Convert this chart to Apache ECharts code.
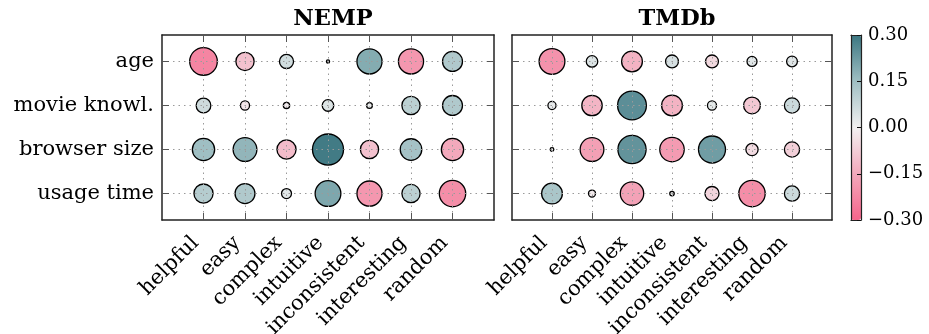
<!DOCTYPE html>
<html><head><meta charset="utf-8">
<script src="https://cdn.jsdelivr.net/npm/echarts@6/dist/echarts.min.js"></script>
<style>html,body{margin:0;padding:0;background:#fff}#c{width:929px;height:334px}</style>
</head><body><div id="c"></div>
<script>
// ---- data ----
const xCategories = ['helpful', 'easy', 'complex', 'intuitive', 'inconsistent', 'interesting', 'random'];
const yCategories = ['age', 'movie knowl.', 'browser size', 'usage time'];
const panelTitles = ['NEMP', 'TMDb'];
// correlation values, one row per yCategory, one column per xCategory
const nempValues = [
  [-0.23, -0.10, 0.06, 0.003, 0.19, -0.19, 0.12],
  [0.065, -0.025, -0.012, 0.04, 0.01, 0.10, 0.12],
  [0.15, 0.17, -0.11, 0.29, -0.10, 0.14, -0.15],
  [0.11, 0.12, 0.03, 0.20, -0.19, 0.10, -0.21]
];
const tmdbValues = [
  [-0.20, 0.04, -0.13, 0.05, -0.05, 0.03, 0.035],
  [0.02, -0.125, 0.25, -0.13, 0.025, -0.085, 0.07],
  [0.004, -0.17, 0.24, -0.18, 0.22, -0.045, -0.07],
  [0.13, -0.015, -0.165, 0.006, -0.06, -0.21, 0.07]
];
const colorMin = -0.30, colorMax = 0.30, colorStep = 0.15;

// ---- chart ----
const FONT = 'DejaVu Serif';
const xIdx = xCategories.map((_, i) => i);
const yIdx = yCategories.map((_, i) => i);
function toPoints(m) { const p = []; m.forEach((row, r) => row.forEach((v, c) => p.push([c, r, v]))); return p; }

const grids = [
  { left: 162, top: 35, width: 332, height: 185, outerBoundsMode: 'none', containLabel: false },
  { left: 512, top: 35, width: 320, height: 185, outerBoundsMode: 'none', containLabel: false },
  { left: 851, top: 35, width: 10, height: 185, outerBoundsMode: 'none', containLabel: false }
];
const borderLine = { show: true, onZero: false, lineStyle: { color: '#222', width: 1.5 } };
const gridLine = { show: true, lineStyle: { color: '#9a9a9a', width: 1, type: [1.5, 4] } };
const xAxes = [], yAxes = [];
[0, 1].forEach(g => {
  ['bottom', 'top'].forEach(pos => {
    xAxes.push({
      gridIndex: g, type: 'value', min: -1, max: 7, position: pos, z: 5,
      axisLine: borderLine,
      axisTick: { show: true, inside: true, length: 7, customValues: xIdx, lineStyle: { color: '#555', width: 1 } },
      axisLabel: pos === 'bottom' ? {
        show: true, customValues: xIdx, formatter: v => xCategories[v] || '', rotate: 45, margin: 12,
        padding: [0, 11, 0, 0],
        fontFamily: FONT, fontSize: 21, color: '#000'
      } : { show: false },
      splitLine: pos === 'bottom' ? gridLine : { show: false }
    });
  });
  ['left', 'right'].forEach(pos => {
    yAxes.push({
      gridIndex: g, type: 'value', min: -0.6, max: 3.6, inverse: true, position: pos, z: 5,
      axisLine: borderLine,
      axisTick: { show: true, inside: true, length: 7, customValues: yIdx, lineStyle: { color: '#555', width: 1 } },
      axisLabel: (pos === 'left' && g === 0) ? {
        show: true, customValues: yIdx, formatter: v => yCategories[v] || '', margin: 8,
        fontFamily: FONT, fontSize: 21, color: '#000'
      } : { show: false },
      splitLine: pos === 'left' ? gridLine : { show: false }
    });
  });
});
// colorbar frame + ticks
const cbLine = { show: true, onZero: false, lineStyle: { color: '#222', width: 1.2 } };
xAxes.push({ gridIndex: 2, type: 'value', min: 0, max: 1, position: 'bottom', z: 10, axisLine: cbLine, axisTick: { show: false }, axisLabel: { show: false }, splitLine: { show: false } });
xAxes.push({ gridIndex: 2, type: 'value', min: 0, max: 1, position: 'top', z: 10, axisLine: cbLine, axisTick: { show: false }, axisLabel: { show: false }, splitLine: { show: false } });
yAxes.push({
  gridIndex: 2, type: 'value', min: colorMin, max: colorMax, interval: colorStep, position: 'right', z: 10,
  axisLine: cbLine,
  axisTick: { show: true, inside: true, length: 4, lineStyle: { color: '#111', width: 1 } },
  axisLabel: {
    show: true, margin: 7, fontFamily: FONT, fontSize: 18, color: '#000',
    formatter: v => (Math.abs(v) < 1e-9 ? '0.00' : (v < 0 ? '\u2212' : '') + Math.abs(v).toFixed(2))
  },
  splitLine: { show: false }
});
yAxes.push({ gridIndex: 2, type: 'value', min: colorMin, max: colorMax, position: 'left', z: 10, axisLine: cbLine, axisTick: { show: false }, axisLabel: { show: false }, splitLine: { show: false } });

const series = [nempValues, tmdbValues].map((m, i) => ({
  type: 'scatter',
  xAxisIndex: i * 2, yAxisIndex: i * 2,
  data: toPoints(m),
  symbolSize: d => 57.6 * Math.sqrt(Math.abs(d[2])),
  itemStyle: { borderColor: '#000', borderWidth: 1.3, opacity: 1 },
  emphasis: { disabled: true },
  z: 3
}));

const chart = echarts.init(document.getElementById('c'), null, { renderer: 'canvas' });
chart.setOption({
  animation: false,
  backgroundColor: '#fff',
  title: panelTitles.map((t, i) => ({
    text: t, left: i === 0 ? 328 : 672, textAlign: 'center', top: 3,
    textStyle: { fontFamily: FONT, fontWeight: 'bold', fontSize: 22.5, color: '#000' }
  })),
  grid: grids,
  xAxis: xAxes,
  yAxis: yAxes,
  visualMap: {
    type: 'continuous', min: colorMin, max: colorMax, dimension: 2, seriesIndex: [0, 1],
    inRange: { color: ['#f6658b', '#f3a9bc', '#f2f1f1', '#9fbfc3', '#3b7681'] },
    left: 851, top: 35, itemWidth: 10, itemHeight: 185, padding: 0,
    calculable: false, showLabel: false, hoverLink: false, orient: 'vertical', text: null, z: 4
  },
  series: series
});
</script>
</body></html>
